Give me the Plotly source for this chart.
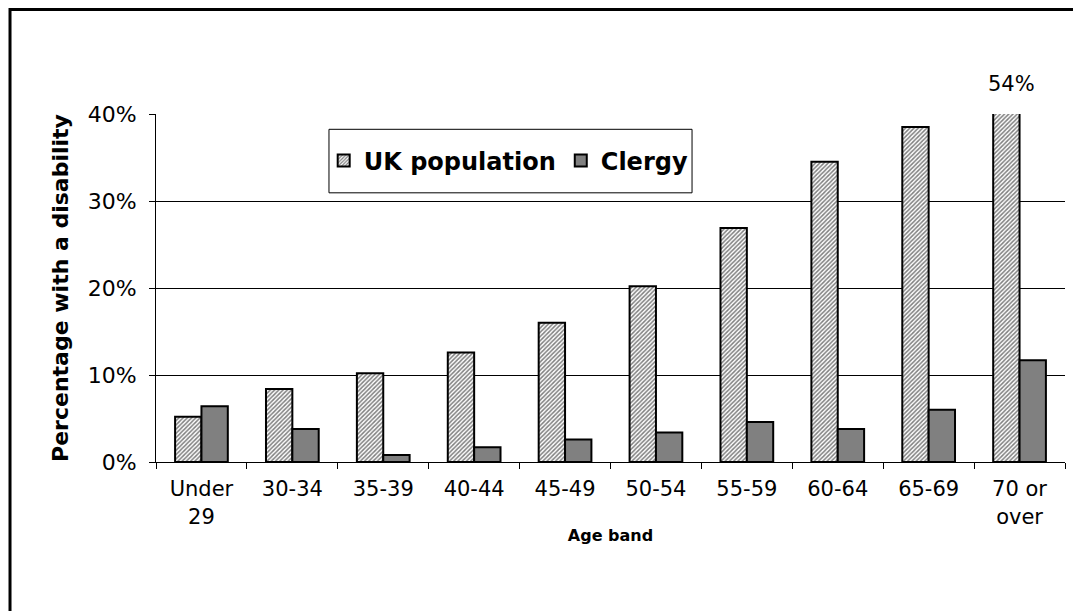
import plotly.graph_objects as go

categories = ["Under<br>29", "30-34", "35-39", "40-44", "45-49", "50-54",
              "55-59", "60-64", "65-69", "70 or<br>over"]
uk_population = [0.052, 0.084, 0.102, 0.126, 0.160, 0.202, 0.269, 0.345, 0.385, 0.54]
clergy = [0.064, 0.038, 0.008, 0.017, 0.026, 0.034, 0.046, 0.038, 0.060, 0.117]
y_ticks = [0, 0.1, 0.2, 0.3, 0.4]
y_tick_labels = ["0%", "10%", "20%", "30%", "40%"]

FONT = "DejaVu Sans"

fig = go.Figure()
fig.add_trace(go.Bar(
    name="UK population", x=categories, y=uk_population,
    marker=dict(color="white",
                pattern=dict(shape="/", fgcolor="black", bgcolor="white", size=3, solidity=0.5),
                line=dict(color="black", width=2)),
))
fig.add_trace(go.Bar(
    name="Clergy", x=categories, y=clergy,
    marker=dict(color="#808080", line=dict(color="black", width=2)),
))

# page body has an 8px margin: figure is 1073x603 placed at (8, 8)
fig.update_layout(
    width=1073, height=603,
    margin=dict(l=148, r=16, t=106, b=149),
    paper_bgcolor="white", plot_bgcolor="white",
    barmode="group", bargap=0.42, bargroupgap=0,
    font=dict(family=FONT, color="black", size=20),
    showlegend=True,
    legend=dict(orientation="h", x=0.388, y=0.865, xanchor="center", yanchor="middle",
                borderwidth=0, bgcolor="rgba(0,0,0,0)",
                font=dict(family=FONT, size=24, color="black", weight="bold"),
                itemwidth=30, tracegroupgap=0),
    xaxis=dict(
        showline=True, linecolor="black", linewidth=1,
        ticks="outside", ticklen=6, tickcolor="black",
        tickson="boundaries", ticklabelstandoff=8,
        tickfont=dict(family=FONT, size=21),
        title=dict(text="<b>Age band</b>", font=dict(family=FONT, size=16), standoff=2),
    ),
    yaxis=dict(
        range=[0, 0.4], tickvals=y_ticks, ticktext=y_tick_labels,
        showline=True, linecolor="black", linewidth=1,
        ticks="outside", ticklen=6, tickcolor="black",
        ticklabelstandoff=8,
        showgrid=True, gridcolor="black", gridwidth=1,
        zeroline=False,
        tickfont=dict(family=FONT, size=22),
        title=dict(text="<b>Percentage with a disability</b>", font=dict(family=FONT, size=22), standoff=12),
    ),
)

fig.add_annotation(x=categories[-1], y=0.4, xref="x", yref="y", text="54%",
                   showarrow=False, yanchor="bottom", yshift=16, xshift=-8,
                   font=dict(family=FONT, size=21, color="black"))

# legend box
fig.add_shape(type="rect", xref="paper", yref="paper",
              x0=0.1903, x1=0.5897, y0=0.7735, y1=0.956,
              line=dict(color="black", width=1), fillcolor="rgba(0,0,0,0)", layer="above")

# outer chart border
fig.add_shape(type="rect", xref="paper", yref="paper",
              x0=-0.1606, x1=1.05, y0=-0.6, y1=1.3,
              line=dict(color="black", width=3), fillcolor="rgba(0,0,0,0)", layer="above")

fig.write_html("out.html")
